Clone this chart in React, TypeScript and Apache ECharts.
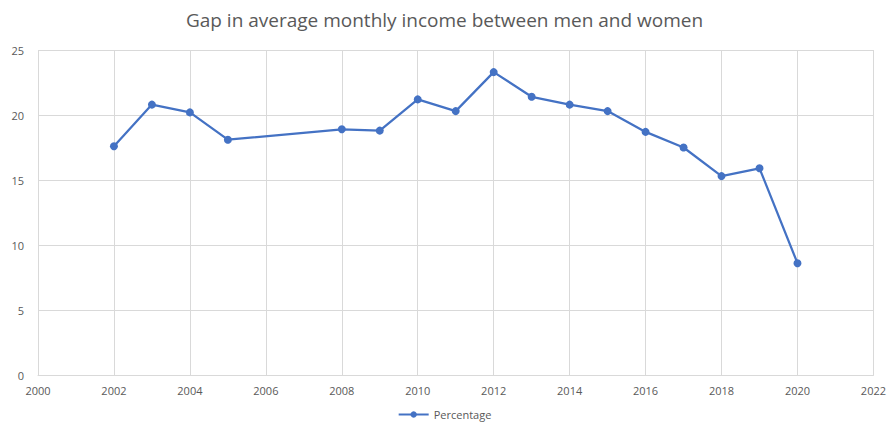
import React, { useEffect, useRef } from "react";
import * as echarts from "echarts";

const years = [2002, 2003, 2004, 2005, 2008, 2009, 2010, 2011, 2012, 2013, 2014, 2015, 2016, 2017, 2018, 2019, 2020];
const percentage = [17.6, 20.8, 20.2, 18.1, 18.9, 18.8, 21.2, 20.3, 23.3, 21.4, 20.8, 20.3, 18.7, 17.5, 15.3, 15.9, 8.6];
const titleText = "Gap in average monthly income between men and women";
const seriesName = "Percentage";

export default function App() {
  const ref = useRef<HTMLDivElement>(null);
  useEffect(() => {
    const chart = echarts.init(ref.current!, null, { renderer: "svg" });
    const font = "'Open Sans', sans-serif";
    chart.setOption({
      animation: false,
      backgroundColor: "#ffffff",
      title: {
        text: titleText,
        left: "center",
        top: 5,
        textStyle: { fontFamily: font, fontSize: 19, fontWeight: "normal", color: "#595959" },
      },
      legend: {
        top: 407,
        left: "center",
        itemWidth: 30,
        itemHeight: 8,
        itemGap: 4,
        padding: 2,
        textStyle: { fontFamily: font, fontSize: 11, color: "#595959" },
        data: [seriesName],
      },
      grid: { left: 38, right: 13, top: 50, bottom: 54 },
      xAxis: {
        type: "value",
        min: 2000,
        max: 2022,
        interval: 2,
        axisLine: { show: true, lineStyle: { color: "#d9d9d9" } },
        axisTick: { show: false },
        axisLabel: {
          fontFamily: font,
          fontSize: 11,
          color: "#595959",
          margin: 10,
          formatter: (v: number) => String(v),
        },
        splitLine: { show: true, lineStyle: { color: "#d9d9d9" } },
      },
      yAxis: {
        type: "value",
        min: 0,
        max: 25,
        interval: 5,
        axisLine: { show: false },
        axisTick: { show: false },
        axisLabel: { fontFamily: font, fontSize: 11, color: "#595959", margin: 14 },
        splitLine: { show: true, lineStyle: { color: "#d9d9d9" } },
      },
      series: [
        {
          name: seriesName,
          type: "line",
          data: years.map((y, i) => [y, percentage[i]]),
          symbol: "circle",
          symbolSize: 8,
          itemStyle: { color: "#4472c4" },
          lineStyle: { color: "#4472c4", width: 2.25 },
        },
      ],
    });
    return () => chart.dispose();
  }, []);
  return <div ref={ref} style={{ width: 889, height: 429, position: "absolute", left: 0, top: 0 }} />;
}
